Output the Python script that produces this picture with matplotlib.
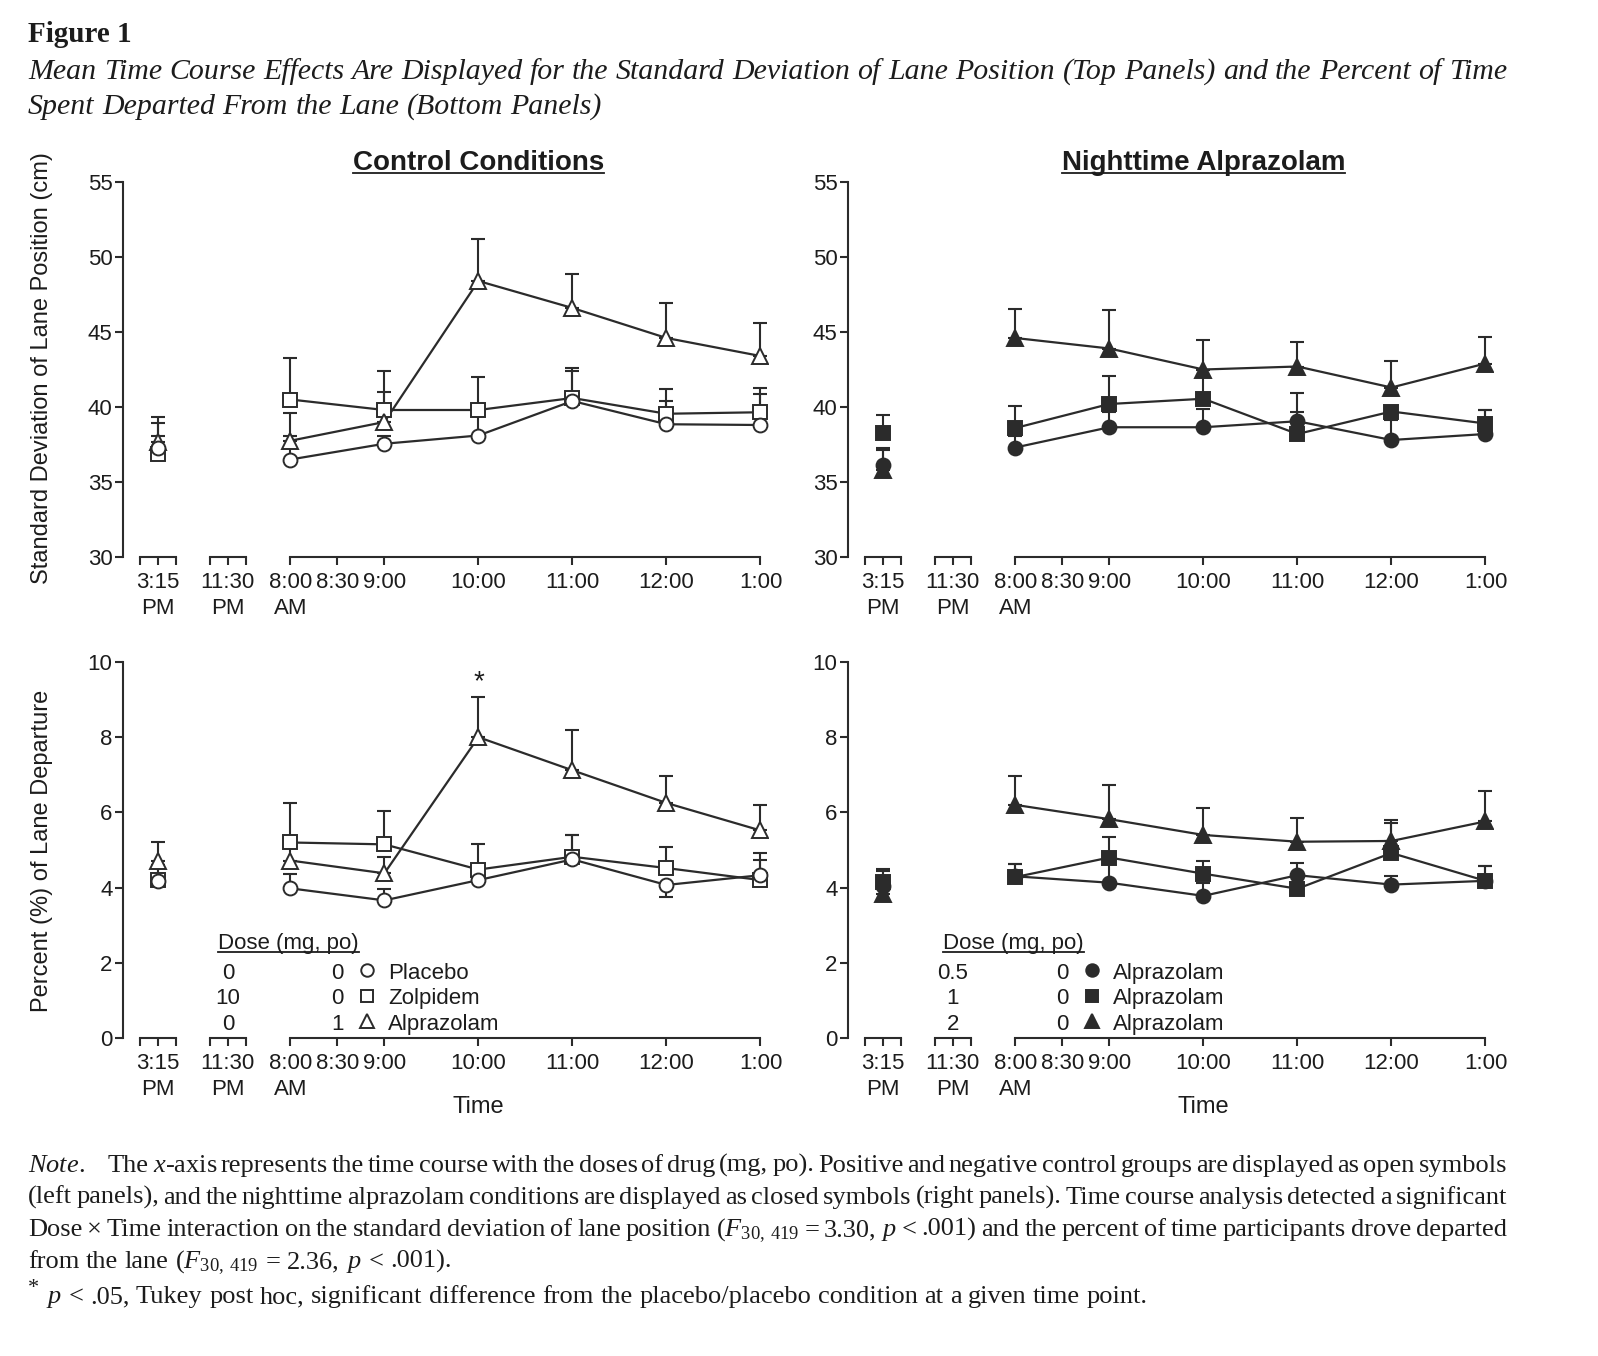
import numpy as np
import matplotlib
matplotlib.use("Agg")
import matplotlib.pyplot as plt
from matplotlib.lines import Line2D
from matplotlib.transforms import blended_transform_factory

plt.rcParams['font.family'] = ['Liberation Sans', 'DejaVu Sans']
plt.rcParams['mathtext.fontset'] = 'custom'
plt.rcParams['mathtext.rm'] = 'Liberation Serif'
plt.rcParams['mathtext.it'] = 'Liberation Serif:italic'
plt.rcParams['mathtext.bf'] = 'Liberation Serif:bold'

INK = '#2b2b2b'
TEXT = '#1c1c1c'
W, H = 1598, 1356
NARROW = ['Liberation Sans Narrow', 'Liberation Sans', 'DejaVu Sans']
SMALL = 16

# --- time axis --------------------------------------------------------------
# hours after 8:00 AM on the morning segment; 3:15 PM (baseline) and
# 11:30 PM (dosing) sit on their own short broken segments
time_pos = [0, 1, 2, 3, 4, 5]          # 8:00 .. 1:00
baseline_pos = -1.41                    # 3:15 PM
dosing_pos = -0.665                     # 11:30 PM
tick_pos = [-1.41, -0.665, 0, 0.5, 1, 2, 3, 4, 5]
tick_labels = ['3:15\nPM', '11:30\nPM', '8:00\nAM', '8:30', '9:00',
               '10:00', '11:00', '12:00', '1:00']

# --- data: first value = 3:15 PM baseline, then 8:00 .. 1:00 ----------------
# errors are one-sided SEM bars: positive draws up, negative draws down
sdlp_placebo = [37.3, 36.5, 37.55, 38.1, 40.4, 38.85, 38.8]
sdlp_placebo_err = [0.75, 1.6, 0.5, 1.6, 2.0, 1.55, 2.05]
sdlp_zolpidem = [36.85, 40.5, 39.8, 39.8, 40.6, 39.55, 39.65]
sdlp_zolpidem_err = [2.1, 2.75, 2.6, 2.2, 2.0, 1.65, 1.65]
sdlp_alpraz = [37.7, 37.75, 39.0, 48.4, 46.6, 44.6, 43.4]
sdlp_alpraz_err = [1.6, 1.85, 2.0, 2.8, 2.25, 2.35, 2.2]

sdlp_night05 = [36.15, 37.3, 38.65, 38.65, 39.05, 37.8, 38.2]
sdlp_night05_err = [1.1, 0.8, 1.0, 1.2, 1.9, 1.6, 1.6]
sdlp_night1 = [38.25, 38.6, 40.2, 40.55, 38.2, 39.7, 38.9]
sdlp_night1_err = [1.25, 1.5, 1.85, 1.9, 1.5, -0.55, 0.9]
sdlp_night2 = [35.8, 44.6, 43.9, 42.5, 42.7, 41.3, 42.9]
sdlp_night2_err = [1.35, 1.95, 2.6, 1.95, 1.6, 1.75, 1.75]

dep_placebo = [4.18, 3.98, 3.66, 4.2, 4.75, 4.07, 4.33]
dep_placebo_err = [0.4, 0.37, 0.3, 0.3, 0.65, -0.33, 0.4]
dep_zolpidem = [4.2, 5.2, 5.15, 4.48, 4.82, 4.52, 4.2]
dep_zolpidem_err = [0.4, 1.06, 0.89, 0.67, 0.57, 0.57, 0.72]
dep_alpraz = [4.7, 4.72, 4.38, 8.0, 7.12, 6.25, 5.52]
dep_alpraz_err = [0.52, 0.45, 0.44, 1.07, 1.08, 0.73, 0.69]

dep_night05 = [4.05, 4.3, 4.13, 3.78, 4.33, 4.08, 4.18]
dep_night05_err = [0.45, 0.33, 0.5, 0.35, 0.32, 0.22, 0.4]
dep_night1 = [4.15, 4.28, 4.8, 4.37, 3.97, 4.92, 4.18]
dep_night1_err = [0.3, 0.35, 0.55, 0.35, 0.3, 0.8, 0.4]
dep_night2 = [3.83, 6.2, 5.82, 5.4, 5.22, 5.24, 5.76]
dep_night2_err = [0.3, 0.76, 0.9, 0.73, 0.63, 0.56, 0.81]

# legend tables
control_names = ['Placebo', 'Zolpidem', 'Alprazolam']
control_dose_night = ['0', '10', '0']
control_dose_morning = ['0', '0', '1']
night_names = ['Alprazolam', 'Alprazolam', 'Alprazolam']
night_dose_night = ['0.5', '1', '2']
night_dose_morning = ['0', '0', '0']

markers = ['o', 's', '^']


def px_x(px):
    return px / W


def px_y(py):
    return 1 - py / H


def draw_series(ax, vals, errs, marker, filled):
    vals = np.asarray(vals, dtype=float)
    errs = np.asarray(errs, dtype=float)
    lo = np.where(errs < 0, -errs, 0)
    hi = np.where(errs > 0, errs, 0)
    xs = np.r_[baseline_pos, time_pos]
    ax.errorbar(xs, vals, yerr=[lo, hi], fmt='none', ecolor=INK,
                elinewidth=1.5, capsize=5, capthick=1.5, zorder=2)
    ax.plot(time_pos, vals[1:], color=INK, lw=1.6, zorder=3)
    ms = 11 if marker == '^' else 10
    ax.plot(xs, vals, ls='none', marker=marker, ms=ms,
            mfc=INK if filled else 'white', mec=INK, mew=1.4, zorder=4)


def setup_axis(ax, ylim, yticks):
    ax.set_xlim(-1.78, 5.08)
    ax.set_ylim(*ylim)
    ax.set_yticks(yticks)
    for s in ['top', 'right', 'bottom']:
        ax.spines[s].set_visible(False)
    ax.spines['left'].set_linewidth(1.5)
    ax.spines['left'].set_color(INK)
    ax.set_xticks(tick_pos)
    ax.set_xticklabels(tick_labels, linespacing=1.35)
    ends = [baseline_pos - 0.19, baseline_pos + 0.19,
            dosing_pos - 0.19, dosing_pos + 0.19]
    ax.set_xticks(ends, minor=True)
    ax.tick_params(axis='both', which='both', direction='out', length=5.5,
                   width=1.5, color=INK, labelsize=SMALL, labelcolor=TEXT)
    ax.tick_params(axis='x', pad=5)
    ax.tick_params(axis='y', pad=2)
    for lab in ax.get_xticklabels() + ax.get_yticklabels():
        lab.set_family(NARROW)
    trans = blended_transform_factory(ax.transData, ax.transAxes)
    for a, b in [(ends[0], ends[1]), (ends[2], ends[3]), (time_pos[0], time_pos[-1])]:
        ax.plot([a, b], [0, 0], transform=trans, color=INK, lw=1.5,
                clip_on=False, solid_capstyle='projecting')


def draw_legend(ax, names, night, morning, filled):
    kw = dict(fontsize=SMALL, color=TEXT, family=NARROW)
    head = ax.text(-0.02, 2.38, 'Dose (mg, po)', ha='center', va='baseline', **kw)
    for i in range(3):
        y = 1.72 - i * 0.68
        ax.text(dosing_pos, y, night[i], ha='center', va='center', **kw)
        ax.text(0.5, y, morning[i], ha='center', va='center', **kw)
        ax.plot([0.82], [y + 0.08], marker=markers[i], ms=9 if markers[i] != '^' else 10,
                mfc=INK if filled else 'white', mec=INK, mew=1.4, ls='none')
        ax.text(1.04, y, names[i], ha='left', va='center', **kw)
    return head


fig = plt.figure(figsize=(W / 100, H / 100), dpi=100)
ax_tl = fig.add_axes([px_x(123), px_y(557), px_x(645), 375 / H])
ax_tr = fig.add_axes([px_x(848), px_y(557), px_x(645), 375 / H])
ax_bl = fig.add_axes([px_x(123), px_y(1038), px_x(645), 376 / H])
ax_br = fig.add_axes([px_x(848), px_y(1038), px_x(645), 376 / H])

for ax in (ax_tl, ax_tr):
    setup_axis(ax, (30, 55), [30, 35, 40, 45, 50, 55])
for ax in (ax_bl, ax_br):
    setup_axis(ax, (0, 10), [0, 2, 4, 6, 8, 10])

draw_series(ax_tl, sdlp_zolpidem, sdlp_zolpidem_err, 's', False)
draw_series(ax_tl, sdlp_alpraz, sdlp_alpraz_err, '^', False)
draw_series(ax_tl, sdlp_placebo, sdlp_placebo_err, 'o', False)

draw_series(ax_tr, sdlp_night2, sdlp_night2_err, '^', True)
draw_series(ax_tr, sdlp_night1, sdlp_night1_err, 's', True)
draw_series(ax_tr, sdlp_night05, sdlp_night05_err, 'o', True)

draw_series(ax_bl, dep_zolpidem, dep_zolpidem_err, 's', False)
draw_series(ax_bl, dep_alpraz, dep_alpraz_err, '^', False)
draw_series(ax_bl, dep_placebo, dep_placebo_err, 'o', False)

draw_series(ax_br, dep_night2, dep_night2_err, '^', True)
draw_series(ax_br, dep_night1, dep_night1_err, 's', True)
draw_series(ax_br, dep_night05, dep_night05_err, 'o', True)

# significance marker
ax_bl.text(2, 9.45, '*', ha='center', va='center', fontsize=20, color=TEXT)

heads = [draw_legend(ax_bl, control_names, control_dose_night, control_dose_morning, False),
         draw_legend(ax_br, night_names, night_dose_night, night_dose_morning, True)]

# panel titles and x labels
titles = []
for ax, name in [(ax_tl, 'Control Conditions'), (ax_tr, 'Nighttime Alprazolam')]:
    tr = blended_transform_factory(ax.transData, ax.transAxes)
    titles.append(ax.text(2, (557 - 170) / 375, name, transform=tr, ha='center',
                          va='baseline', fontsize=20, fontweight='bold', color=TEXT))
for ax in (ax_bl, ax_br):
    tr = blended_transform_factory(ax.transData, ax.transAxes)
    ax.text(2, -(1107 - 1038) / 376, 'Time', transform=tr, ha='center',
            va='center', fontsize=17, color=TEXT)

fig.text(px_x(42), px_y(368), 'Standard Deviation of Lane Position (cm)',
         rotation=90, ha='center', va='center', fontsize=17, color=TEXT)
fig.text(px_x(42), px_y(851), 'Percent (%) of Lane Departure',
         rotation=90, ha='center', va='center', fontsize=17, color=TEXT)

renderer = fig.canvas.get_renderer()


def underline(txt, offset_px):
    bb = txt.get_window_extent(renderer)
    x, y = txt.get_transform().transform(txt.get_position())
    yl = (y - offset_px) / H
    fig.add_artist(Line2D([bb.x0 / W, bb.x1 / W], [yl, yl], transform=fig.transFigure,
                          color=TEXT, lw=1.3))


for t in titles:
    underline(t, 3)
for t in heads:
    underline(t, 3)


# --- caption text -------------------------------------------------------------
def text_line(x0, x1, y, line, justify, **kw):
    tokens = line.split(' ')
    arts = [fig.text(0, px_y(y), t, va='baseline', color=TEXT, **kw) for t in tokens]
    widths = [a.get_window_extent(renderer).width for a in arts]
    if justify and len(tokens) > 1:
        gap = (x1 - x0 - sum(widths)) / (len(tokens) - 1)
    else:
        gap = 0.25 * kw.get('fontsize', 12) * 100 / 72
    x = x0
    for a, w in zip(arts, widths):
        a.set_x(x / W)
        x += w + gap


SERIF = 'Liberation Serif'
fig.text(px_x(28), px_y(42), 'Figure 1', family=SERIF, fontweight='bold',
         fontsize=21, va='baseline', color=TEXT)
text_line(28, 1507, 79, 'Mean Time Course Effects Are Displayed for the Standard Deviation '
          'of Lane Position (Top Panels) and the Percent of Time', True,
          family=SERIF, style='italic', fontsize=21.5)
text_line(28, 1507, 114, 'Spent Departed From the Lane (Bottom Panels)', False,
          family=SERIF, style='italic', fontsize=21.5)

note_kw = dict(family=SERIF, fontsize=19)
fig.text(px_x(28), px_y(1172), '$Note$.', va='baseline', color=TEXT, **note_kw)
text_line(108, 1507, 1172, 'The $x$-axis represents the time course with the doses of drug '
          '(mg, po). Positive and negative control groups are displayed as open symbols',
          True, **note_kw)
text_line(28, 1507, 1204, '(left panels), and the nighttime alprazolam conditions are '
          'displayed as closed symbols (right panels). Time course analysis detected a '
          'significant', True, **note_kw)
text_line(28, 1507, 1236, r'Dose × Time interaction on the standard deviation of lane '
          r'position ($F_{30,\;419}$ = 3.30, $p$ < .001) and the percent of time '
          r'participants drove departed', True, **note_kw)
text_line(28, 1507, 1268, r'from the lane ($F_{30,\;419}$ = 2.36, $p$ < .001).', False,
          **note_kw)
fig.text(px_x(28), px_y(1293), '*', va='baseline', color=TEXT, family=SERIF, fontsize=16)
text_line(46, 1507, 1303, '$p$ < .05, Tukey post hoc, significant difference from the '
          'placebo/placebo condition at a given time point.', False, **note_kw)

fig.savefig('out.png', dpi=100, facecolor='white')
